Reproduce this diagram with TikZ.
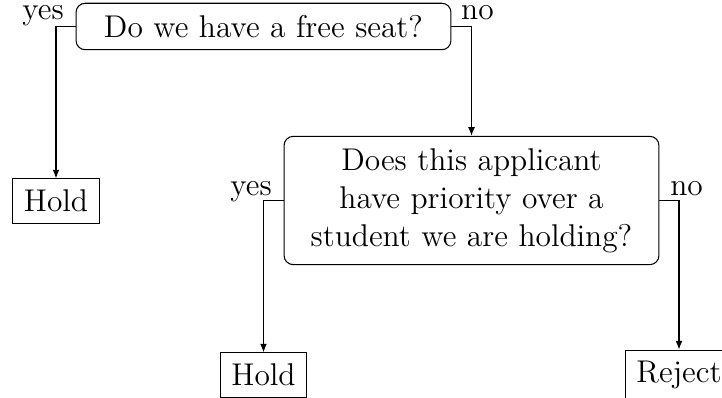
\documentclass[tikz,border=0pt]{standalone}
\usetikzlibrary{arrows.meta}
\begin{document}
\begin{tikzpicture}[x=0.3816pt,y=-0.3816pt,
  font=\fontsize{12}{14.5}\selectfont,
  question/.style={draw,rounded corners=3.5pt,align=center,text width=133.9pt,inner sep=4.58pt},
  answer/.style={draw,inner sep=4.2pt},
  lbl/.style={inner sep=0pt,anchor=base},
  conn/.style={-{Latex[length=3.3pt,width=2.6pt]}}]
\useasboundingbox (0,0) rectangle (722,398);
\node[question] (q1) at (263.5,26.5) {Do we have a free seat?};
\node[question] (q2) at (471.5,200.5) {Does this applicant\\have priority over a\\student we are holding?};
\node[answer] (h1) at (56,201) {Hold};
\node[answer] (h2) at (263.5,375) {Hold};
\node[answer] (r) at (679,375) {Reject};
\draw[conn] (q1.west) -| (h1.north);
\draw[conn] (q1.east) -| (q2.north);
\draw[conn] (q2.west) -| (h2.north);
\draw[conn] (q2.east) -| (r.north);
\node[lbl] (y1) at (43,20) {yes};
\node[lbl] (n1) at (477.5,20) {no};
\node[lbl] (y2) at (251,196) {yes};
\node[lbl] (n2) at (686.5,196) {no};
\end{tikzpicture}
\end{document}
